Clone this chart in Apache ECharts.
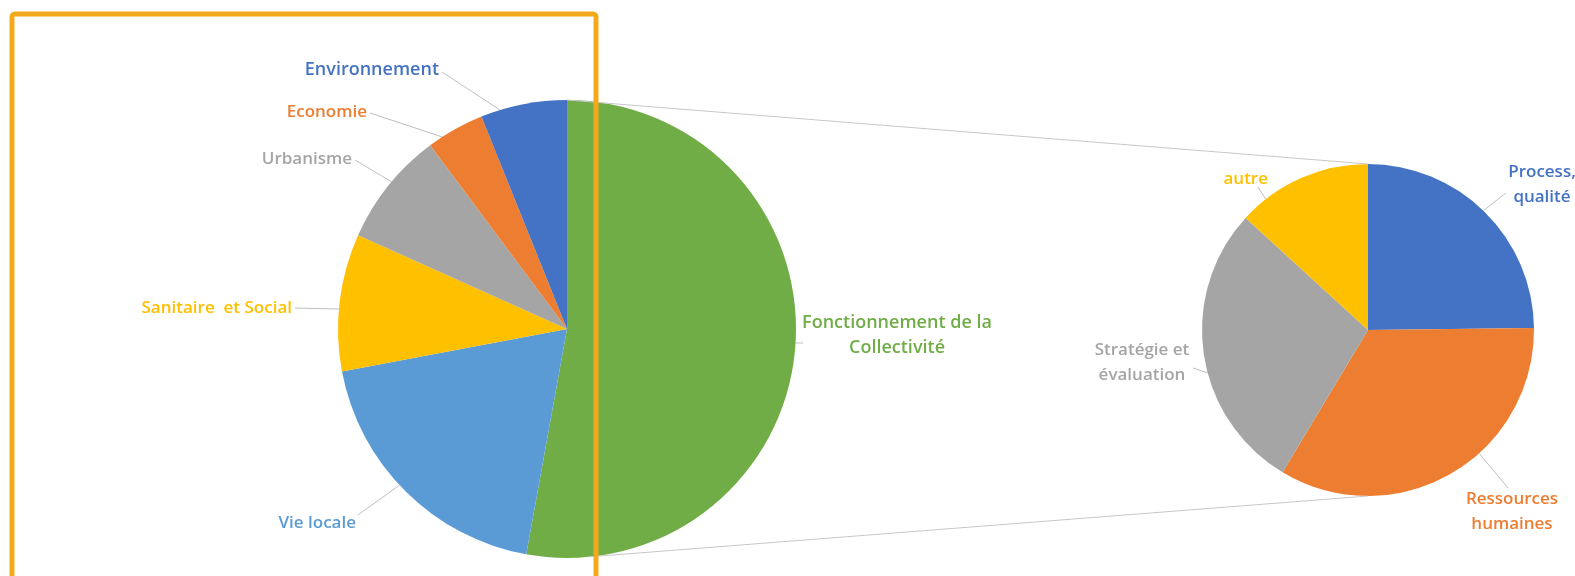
<!DOCTYPE html>
<html>
<head>
<meta charset="utf-8">
<script src="https://cdn.jsdelivr.net/npm/echarts@6/dist/echarts.min.js"></script>
<style>html,body{margin:0;padding:0;background:#fff}#c{width:1575px;height:576px}</style>
</head>
<body>
<div id="c"></div>
<script>
// ---- data ----
const mainCategories = ['Fonctionnement de la\nCollectivité', 'Vie locale', 'Sanitaire  et Social', 'Urbanisme', 'Economie', 'Environnement'];
const mainValues = [52.9, 19.2, 9.7, 8.1, 4.1, 6.1];
const subCategories = ['Process,\nqualité', 'Ressources\nhumaines', 'Stratégie et\névaluation', 'autre'];
const subValues = [24.8, 33.8, 28.2, 13.2];

// ---- style / layout ----
const mainColors = ['#70AD47', '#5B9BD5', '#FFC000', '#A5A5A5', '#ED7D31', '#4472C4'];
const subColors = ['#4472C4', '#ED7D31', '#A5A5A5', '#FFC000'];
const mainFontSizes = [18, 17, 17, 17, 17, 18];
const mainCenter = [567, 329], mainR = 229;
const subCenter = [1368, 330], subR = 166;
// label anchor [x, y, align], leader start [x, y] (null = no leader), leader end angle (deg clockwise from top)
const mainLabelPos = [
  [897, 335, 'center', [803, 343], 93.5],
  [356, 523, 'right', [358, 515], 227],
  [292, 308, 'right', [295, 308], 275],
  [352, 159, 'right', [355, 160], 310],
  [367, 112, 'right', [370, 113], 327],
  [439, 70, 'right', [442, 72], 343]
];
const subLabelPos = [
  [1542, 185, 'center', [1506, 193], 44],
  [1512, 512, 'center', [1508, 488], 138],
  [1142, 363, 'center', [1193, 368], 255],
  [1268, 179, 'right', [1258, 187], 322]
];

const font = '"Open Sans", Lato, sans-serif';

function mkData(cats, vals, cols, sizes) {
  return cats.map((c, i) => ({ name: c, value: vals[i], itemStyle: { color: cols[i] },
    label: Object.assign({ color: cols[i] }, sizes ? { fontSize: sizes[i] } : {}) }));
}
function edgePoint(center, r, deg) {
  const a = deg * Math.PI / 180;
  return [center[0] + r * Math.sin(a), center[1] - r * Math.cos(a)];
}
function mkLayout(pos, center, r) {
  return function (p) {
    const q = pos[p.dataIndex];
    const out = { x: q[0], y: q[1], align: q[2], verticalAlign: 'middle' };
    if (q[3]) {
      const e = edgePoint(center, r, q[4]);
      out.labelLinePoints = [q[3], [(q[3][0] + e[0]) / 2, (q[3][1] + e[1]) / 2], e];
    } else {
      out.labelLinePoints = [[q[0], q[1]], [q[0], q[1]], [q[0], q[1]]];
    }
    return out;
  };
}

const chart = echarts.init(document.getElementById('c'), null, { renderer: 'canvas' });
const pieBase = {
  type: 'pie',
  startAngle: 90,
  clockwise: true,
  avoidLabelOverlap: false,
  itemStyle: { borderWidth: 0 },
  label: { show: true, position: 'outside', fontFamily: font, fontWeight: 600, fontSize: 17, lineHeight: 25 },
  labelLine: { show: true, length: 10, length2: 10, lineStyle: { color: '#BFBFBF', width: 1 } },
  emphasis: { disabled: true },
  silent: true
};

chart.setOption({
  backgroundColor: '#ffffff',
  animation: false,
  series: [
    Object.assign({}, pieBase, {
      center: mainCenter, radius: mainR,
      data: mkData(mainCategories, mainValues, mainColors, mainFontSizes),
      labelLayout: mkLayout(mainLabelPos, mainCenter, mainR)
    }),
    Object.assign({}, pieBase, {
      center: subCenter, radius: subR,
      data: mkData(subCategories, subValues, subColors),
      labelLayout: mkLayout(subLabelPos, subCenter, subR)
    })
  ],
  graphic: [
    { type: 'line', z: 50, silent: true,
      shape: { x1: mainCenter[0], y1: mainCenter[1] - mainR, x2: subCenter[0], y2: subCenter[1] - subR },
      style: { stroke: '#C8C8C8', lineWidth: 1.2 } },
    { type: 'line', z: 50, silent: true,
      shape: { x1: mainCenter[0] + 20, y1: mainCenter[1] + mainR - 1, x2: subCenter[0], y2: subCenter[1] + subR },
      style: { stroke: '#C8C8C8', lineWidth: 1.2 } },
    { type: 'rect', z: 100, silent: true,
      shape: { x: 12, y: 14, width: 584, height: 570, r: 3 },
      style: { fill: 'none', stroke: '#F4A91C', lineWidth: 5 } }
  ]
});
</script>
</body>
</html>
